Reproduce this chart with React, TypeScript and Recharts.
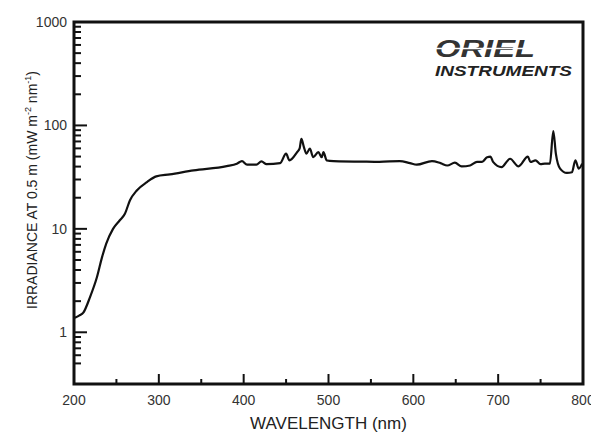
import { LineChart, Line, XAxis, YAxis, ReferenceArea } from 'recharts';

// spectral irradiance
const wavelength = [
  201, 206, 211, 219, 227, 233, 238, 246, 254, 260, 266, 274, 286, 297, 313, 341, 380, 392, 398, 404,
  415, 421, 427, 443, 450, 454, 463, 466, 468, 471, 474, 478, 482, 488, 492, 494, 498, 506, 545, 560,
  584, 596, 604, 622, 632, 640, 649, 657, 667, 675, 681, 687, 691, 694, 704, 714, 724, 735, 738, 744,
  750, 755, 761, 765, 768, 773, 781, 787, 791, 795, 799,
];
const irradiance = [
  1.38, 1.45, 1.55, 2.2, 3.4, 5.3, 7.2, 10.0, 12.1, 14.0, 18.9, 23.5, 28.3, 32.2, 33.6, 36.7, 40.4, 42.7, 45.2, 41.7,
  41.7, 44.9, 42.2, 43.2, 53.3, 45.9, 55.2, 60, 74, 61.7, 53.4, 59.6, 49.3, 55.1, 49.3, 55.1, 45.8, 45.2, 44.6, 44.5,
  45.2, 43.2, 41.7, 45.2, 43.2, 41, 43.6, 40.2, 41, 44.4, 44.4, 49.3, 50, 44.4, 39.5, 47.6, 40.2, 50, 44.4, 45.9,
  42.2, 42.7, 42.7, 88, 53.3, 38.2, 34.7, 35.3, 45.9, 38.2, 42.7,
];

const xTicks = [200, 250, 300, 350, 400, 450, 500, 550, 600, 650, 700, 750, 800];
const xLabels = [200, 300, 400, 500, 600, 700, 800];
const yTicks = [
  0.5, 0.6, 0.7, 0.8, 0.9, 1, 2, 3, 4, 5, 6, 7, 8, 9, 10, 20, 30, 40, 50, 60, 70, 80, 90,
  100, 200, 300, 400, 500, 600, 700, 800, 900, 1000,
];
const yLabels = [1, 10, 100, 1000];

const data = wavelength.map((w, i) => ({ w, v: irradiance[i] }));

const FONT = '"Liberation Sans", Arial, sans-serif';
const Y_MIN = Math.pow(10, -0.5);
const INK = '#111';

// tick marks point inward, drawn as paths
function YTick({ x, y, payload }: any) {
  const major = yLabels.includes(payload.value);
  return (
    <g>
      <path d={`M${x},${y}h${major ? 13 : 7}`} stroke={INK} strokeWidth={2} fill="none" />
      {major && (
        <text x={x - 7} y={y} dy="0.36em" textAnchor="end" fontFamily={FONT} fontSize={14} fill="#333">
          {payload.value}
        </text>
      )}
    </g>
  );
}

function XTick({ x, y, payload }: any) {
  const major = xLabels.includes(payload.value);
  return (
    <g>
      <path d={`M${x},${y}v${major ? -10 : -5}`} stroke={INK} strokeWidth={2} fill="none" />
      {major && (
        <text x={x} y={y + 11} dy="0.71em" textAnchor="middle" fontFamily={FONT} fontSize={14} fill="#333">
          {payload.value}
        </text>
      )}
    </g>
  );
}

function XLabel() {
  return (
    <g>
      <text x={328.5} y={429} textAnchor="middle" fontFamily={FONT} fontSize={17} fill="#222">
        WAVELENGTH (nm)
      </text>
      <text x={435} y={57} fontFamily={FONT} fontSize={23} fontWeight="bold" fontStyle="italic" fill="#333"
        textLength={100} lengthAdjust="spacingAndGlyphs">
        ORIEL
      </text>
      <path d="M430,48.5H545" stroke="#fff" strokeWidth={1.5} />
      <text x={435} y={76} fontFamily={FONT} fontSize={14} fontWeight="bold" fontStyle="italic" fill="#222"
        textLength={137} lengthAdjust="spacingAndGlyphs">
        INSTRUMENTS
      </text>
    </g>
  );
}

function YLabel() {
  return (
    <text transform="translate(37,190) rotate(-90)" textAnchor="middle" fontFamily={FONT} fontSize={14} fill="#222">
      IRRADIANCE AT 0.5 m (mW m
      <tspan fontSize={9} dy={-6}>-2</tspan>
      <tspan dy={6}> nm</tspan>
      <tspan fontSize={9} dy={-6}>-1</tspan>
      <tspan dy={6}>)</tspan>
    </text>
  );
}

export default function App() {
  return (
    <div style={{ position: 'absolute', left: 0, top: 0, width: 591, height: 434, background: '#fff' }}>
      <LineChart width={591} height={434} data={data} margin={{ top: 22, right: 8, left: 0, bottom: 0 }}>
        <XAxis dataKey="w" type="number" domain={[200, 800]} ticks={xTicks} interval={0} height={50}
          tickSize={0} tickMargin={0} axisLine={false} tickLine={false}
          tick={<XTick />} label={{ content: () => <XLabel /> }} />
        <YAxis dataKey="v" type="number" scale="log" domain={[Y_MIN, 1000]} allowDataOverflow ticks={yTicks}
          interval={0} width={74} tickSize={0} tickMargin={0} axisLine={false}
          tickLine={false} tick={<YTick />} label={{ content: () => <YLabel /> }} />
        <ReferenceArea x1={200} x2={800} y1={Y_MIN} y2={1000} fill="none" fillOpacity={0}
          stroke={INK} strokeWidth={3} ifOverflow="visible" />
        <Line dataKey="v" type="monotone" stroke="#111" strokeWidth={2.2} dot={false} isAnimationActive={false} />
      </LineChart>
    </div>
  );
}
